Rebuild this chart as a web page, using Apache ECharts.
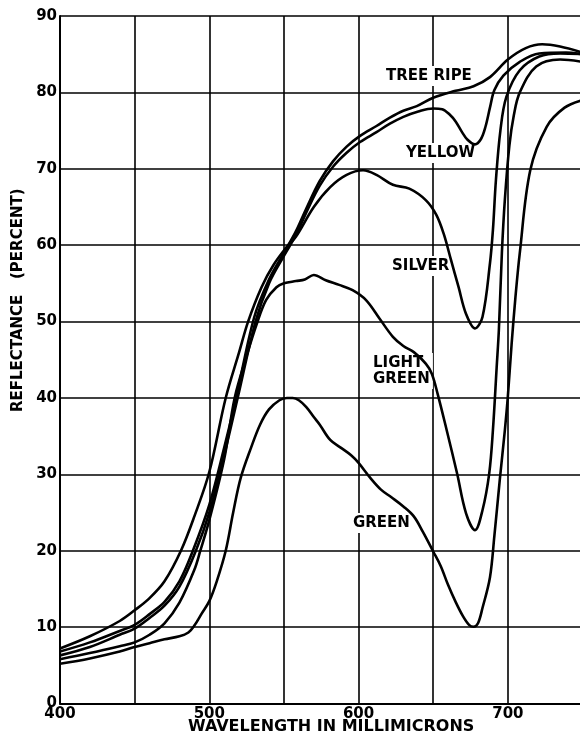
<!DOCTYPE html>
<html><head><meta charset="utf-8">
<script src="https://cdn.jsdelivr.net/npm/echarts@6/dist/echarts.min.js"></script>
<style>html,body{margin:0;padding:0;background:#fff}#c{width:580px;height:738px}</style>
</head><body><div id="c"></div>
<script>
// ---- data (wavelength in millimicrons, reflectance in percent) ----
const treeRipeNm  = [400,420,440,450,460,470,480,489,500,510,518,530,540,550,558,565,574,583,592,601,612,621,630,639,650,665,677,688,700,712,723,735,750];
const treeRipeVal = [6.8,8.0,9.5,10.3,11.7,13.3,16,20,26,33.5,40,50.5,55.5,59,61.8,64.8,68.4,71,72.9,74.3,75.6,76.7,77.6,78.2,79.3,80.2,80.8,82,84.3,85.8,86.3,86,85.2];

const yellowNm  = [400,420,440,450,460,470,480,491,500,510,519,531,540,550,558,565,574,583,592,601,612,621,630,640,650,656,661,665,669,673,678,682,685,688,691,697,708,721,739,750];
const yellowVal = [6.3,7.4,9.0,9.8,11.2,12.8,15.3,20,25,32.5,40,50,55,58.6,61.3,64.3,67.8,70.3,72.1,73.5,74.8,75.9,76.8,77.5,77.9,77.8,77.1,76.2,74.9,73.8,73.2,73.9,75.5,78,80.3,82.2,84,85.1,85.2,85];

const silverNm  = [400,420,440,450,460,470,481,490,500,511,520,526,535,543,552,558,570,581,592,603,612,623,634,645,652,657,662,667,672,678,683,688,690,692,695,699,708,721,735,750];
const silverVal = [7.2,8.8,10.8,12.2,13.8,16,20,24.5,30.3,40,46,50,54.5,57.4,59.8,61.1,65,67.6,69.2,69.8,69.2,67.9,67.4,65.9,64,61.5,58,54.5,51,49.1,50.6,57.6,62,68.5,75,79.4,82.9,84.7,85.1,85];

const lightGreenNm  = [400,420,440,450,460,470,480,490,494,500,510,517,525,532,538,545,550,558,564,570,578,587,596,605,614,623,630,637,645,649,653,659,666,672,678,683,687.5,690,692.5,694,696,698,701,704,708,719,735,750];
const lightGreenVal = [5.8,6.6,7.5,8.0,9.0,10.5,13.2,17.5,20,24,32,40,45.5,49.8,52.8,54.5,55,55.3,55.5,56.1,55.4,54.8,54.1,52.8,50.4,48,46.8,46,44.5,43.2,40.5,35.8,30.1,24.9,22.7,25.3,30.1,35.8,44,49,59,66,73,77,80,83.4,84.3,84];

const greenNm  = [400,420,440,450,460,470,480,486,490,495,500,505,511,516,521,528,534,540,547,552,556,560,565,570,574,581,588,595,600,608,615,622,630,637,643,650,655,660,665,670,674,677,680,683,688,691,694.6,698,700,702.5,705,708,715,726,738,750];
const greenVal = [5.2,5.9,6.8,7.4,7.9,8.4,8.8,9.3,10.2,11.8,13.4,16,20,25,29.5,33.5,36.5,38.5,39.7,40,40,39.7,38.8,37.5,36.5,34.5,33.5,32.5,31.5,29.5,28,27,25.8,24.5,22.5,19.9,18,15.5,13.3,11.4,10.3,10.05,10.5,12.5,16.5,22,29.3,35.8,40.2,47,53,59,69.8,75.5,78,79];

const xTickLabels = [400,500,600,700];
const curveLabels = ['TREE RIPE','YELLOW','SILVER','LIGHT\nGREEN','GREEN'];

// ---- chart ----
const FONT = 'DejaVu Sans';
function pairs(xs, ys){ return xs.map((x,i)=>[x, ys[i]]); }
const curves = [
  pairs(treeRipeNm, treeRipeVal),
  pairs(yellowNm, yellowVal),
  pairs(silverNm, silverVal),
  pairs(lightGreenNm, lightGreenVal),
  pairs(greenNm, greenVal)
];

const chart = echarts.init(document.getElementById('c'), null, {renderer:'canvas'});

function label(text, x, y){
  return {
    type:'text', left:x, top:y, z:1,
    style:{ text:text, font:'bold 15px "'+FONT+'"', fill:'#000',
            backgroundColor:'#fff', padding:[2,3], lineHeight:16 }
  };
}

chart.setOption({
  animation:false,
  backgroundColor:'#fff',
  grid:{ left:60, top:16, width:522.5, height:687.5, containLabel:false, outerBoundsMode:'none' },
  xAxis:{
    type:'value', min:400, max:750, interval:50,
    axisLine:{ show:true, onZero:false, lineStyle:{ color:'#000', width:2 } },
    axisTick:{ show:false },
    splitLine:{ show:true, lineStyle:{ color:'#000', width:1.6 } },
    axisLabel:{ margin:3, color:'#000', fontFamily:FONT, fontWeight:'bold', fontSize:15,
      formatter:function(v){ return xTickLabels.indexOf(v) >= 0 ? String(v) : ''; } }
  },
  yAxis:{
    type:'value', min:0, max:90, interval:10,
    axisLine:{ show:true, lineStyle:{ color:'#000', width:2 } },
    axisTick:{ show:false },
    splitLine:{ show:true, lineStyle:{ color:'#000', width:1.6 } },
    axisLabel:{ margin:3, color:'#000', fontFamily:FONT, fontWeight:'bold', fontSize:15 }
  },
  series: curves.map((d,i)=>({
    type:'line', name:curveLabels[i].replace('\n',' '), data:d,
    showSymbol:false, smooth:0.35, clip:true, z:10,
    lineStyle:{ color:'#000', width:2.6 }
  })),
  graphic:[
    label('TREE RIPE', 383, 66),
    label('YELLOW', 403, 143),
    label('SILVER', 389, 256),
    label('LIGHT\nGREEN', 370, 353),
    label('GREEN', 350, 513),
    { type:'text', left:188, top:719, z:1,
      style:{ text:'WAVELENGTH IN MILLIMICRONS', font:'bold 16px "'+FONT+'"', fill:'#000' } },
    { type:'text', x:18, y:412, rotation:Math.PI/2, z:1,
      style:{ text:'REFLECTANCE   (PERCENT)', font:'bold 15px "'+FONT+'"', fill:'#000', textVerticalAlign:'middle' } }
  ]
});
</script>
</body></html>
